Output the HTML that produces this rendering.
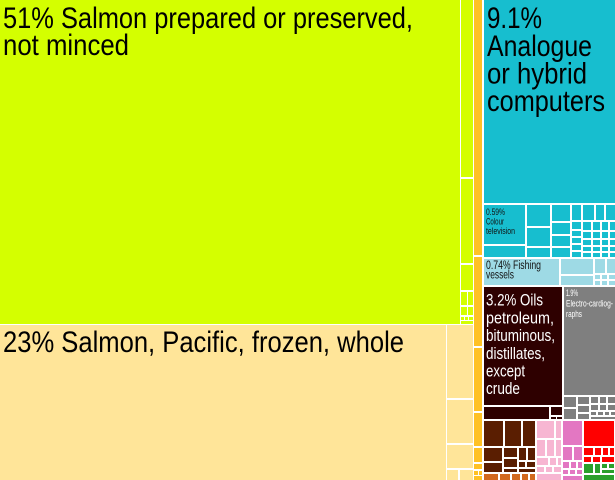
<!DOCTYPE html>
<html><head><meta charset="utf-8"><style>
html,body{margin:0;padding:0;background:#fff;width:615px;height:480px;overflow:hidden}
svg{display:block}
text{font-family:"Liberation Sans Narrow","Liberation Sans",sans-serif}
</style></head><body>
<svg width="615" height="480" viewBox="0 0 615 480" xmlns="http://www.w3.org/2000/svg" shape-rendering="crispEdges">
<rect x="0" y="0" width="615" height="480" fill="#fff"/>
<!-- green -->
<g fill="#d4ff00">
<rect x="0" y="0" width="460" height="324"/>
<rect x="461" y="0" width="12" height="177"/>
<rect x="461" y="179" width="12" height="84"/>
<rect x="461" y="265" width="12" height="25"/>
<rect x="461" y="292" width="6" height="13"/>
<rect x="468" y="292" width="5" height="13"/>
<rect x="461" y="307" width="6" height="8"/>
<rect x="468" y="307" width="5" height="8"/>
<rect x="461" y="317" width="3" height="3"/>
<rect x="465" y="317" width="3" height="3"/>
<rect x="469" y="317" width="4" height="3"/>
<rect x="461" y="321" width="12" height="3"/>
</g>
<!-- beige -->
<g fill="#ffe599">
<rect x="0" y="325" width="446" height="155"/>
<rect x="447" y="325" width="26" height="73"/>
<rect x="447" y="400" width="26" height="43"/>
<rect x="447" y="445" width="26" height="23"/>
<rect x="447" y="470" width="11" height="10"/>
<rect x="460" y="470" width="13" height="10"/>
</g>
<!-- orange strip -->
<g fill="#ffc125">
<rect x="474" y="0" width="8" height="255"/>
<rect x="474" y="257" width="8" height="89"/>
<rect x="474" y="348" width="8" height="63"/>
<rect x="474" y="413" width="8" height="33"/>
<rect x="474" y="448" width="8" height="14"/>
<rect x="474" y="464" width="8" height="5"/>
<rect x="474" y="471" width="4" height="4"/>
<rect x="479" y="471" width="3" height="4"/>
<rect x="474" y="476" width="8" height="4"/>
</g>
<!-- teal -->
<g fill="#17becf">
<rect x="484" y="0" width="131" height="203"/>
<rect x="484" y="205" width="41" height="39"/>
<rect x="484" y="246" width="41" height="11"/>
<rect x="527" y="205" width="23" height="21"/>
<rect x="527" y="228" width="23" height="18"/>
<rect x="527" y="248" width="23" height="9"/>
<rect x="552" y="205" width="18" height="16"/>
<rect x="552" y="223" width="18" height="11"/>
<rect x="552" y="236" width="18" height="10"/>
<rect x="552" y="248" width="18" height="9"/>
<rect x="572" y="205" width="9" height="15"/>
<rect x="572" y="222" width="9" height="7"/>
<rect x="572" y="231" width="9" height="5"/>
<rect x="572" y="238" width="9" height="5"/>
<rect x="572" y="245" width="9" height="5"/>
<rect x="572" y="252" width="9" height="5"/>
<rect x="583" y="205" width="11" height="15"/>
<rect x="596" y="205" width="8" height="15"/>
<rect x="606" y="205" width="9" height="15"/>
<rect x="583" y="222" width="8" height="8"/>
<rect x="593" y="222" width="7" height="8"/>
<rect x="602" y="222" width="6" height="8"/>
<rect x="610" y="222" width="5" height="8"/>
<rect x="583" y="232" width="8" height="6"/>
<rect x="593" y="232" width="7" height="6"/>
<rect x="602" y="232" width="6" height="6"/>
<rect x="610" y="232" width="5" height="6"/>
<rect x="583" y="240" width="8" height="5"/>
<rect x="593" y="240" width="7" height="5"/>
<rect x="602" y="240" width="6" height="5"/>
<rect x="610" y="240" width="5" height="5"/>
<rect x="583" y="247" width="8" height="4"/>
<rect x="593" y="247" width="7" height="4"/>
<rect x="602" y="247" width="6" height="4"/>
<rect x="610" y="247" width="5" height="4"/>
<rect x="583" y="253" width="8" height="4"/>
<rect x="593" y="253" width="7" height="4"/>
<rect x="602" y="253" width="6" height="4"/>
<rect x="610" y="253" width="5" height="4"/>
</g>
<!-- light blue -->
<g fill="#9edae5">
<rect x="484" y="259" width="75" height="26"/>
<rect x="561" y="259" width="32" height="15"/>
<rect x="561" y="276" width="32" height="9"/>
<rect x="595" y="259" width="10" height="14"/>
<rect x="607" y="259" width="8" height="14"/>
<rect x="595" y="275" width="5" height="4"/>
<rect x="602" y="275" width="5" height="4"/>
<rect x="609" y="275" width="6" height="4"/>
<rect x="595" y="281" width="5" height="4"/>
<rect x="602" y="281" width="5" height="4"/>
<rect x="609" y="281" width="6" height="4"/>
</g>
<!-- dark brown -->
<g fill="#2e0000">
<rect x="484" y="287" width="78" height="118"/>
<rect x="484" y="407" width="65" height="12"/>
<rect x="551" y="407" width="11" height="8"/>
<rect x="551" y="417" width="5" height="2"/>
<rect x="557" y="417" width="5" height="2"/>
</g>
<!-- grey -->
<g fill="#7f7f7f">
<rect x="564" y="287" width="51" height="108"/>
<rect x="564" y="397" width="12" height="10"/>
<rect x="564" y="409" width="12" height="10"/>
<rect x="578" y="397" width="11" height="7"/>
<rect x="578" y="406" width="11" height="6"/>
<rect x="578" y="414" width="11" height="5"/>
<rect x="591" y="397" width="7" height="6"/>
<rect x="600" y="397" width="6" height="6"/>
<rect x="608" y="397" width="7" height="6"/>
<rect x="591" y="405" width="7" height="5"/>
<rect x="600" y="405" width="6" height="5"/>
<rect x="608" y="405" width="7" height="5"/>
<rect x="591" y="412" width="5" height="3"/>
<rect x="598" y="412" width="5" height="3"/>
<rect x="605" y="412" width="4" height="3"/>
<rect x="611" y="412" width="4" height="3"/>
<rect x="591" y="417" width="24" height="2"/>
</g>
<!-- brown -->
<g fill="#5a1e01">
<rect x="484" y="421" width="19" height="25"/>
<rect x="505" y="421" width="16" height="25"/>
<rect x="523" y="421" width="12" height="25"/>
<rect x="484" y="448" width="18" height="13"/>
<rect x="484" y="463" width="18" height="9"/>
<rect x="504" y="448" width="13" height="9"/>
<rect x="504" y="459" width="13" height="8"/>
<rect x="504" y="469" width="13" height="3"/>
<rect x="519" y="448" width="7" height="12"/>
<rect x="528" y="448" width="7" height="12"/>
<rect x="519" y="462" width="6" height="5"/>
<rect x="527" y="462" width="8" height="5"/>
<rect x="519" y="469" width="16" height="3"/>
</g>
<g fill="#d2691e">
<rect x="484" y="474" width="14" height="6"/>
<rect x="500" y="474" width="10" height="6"/>
<rect x="512" y="474" width="8" height="6"/>
<rect x="522" y="474" width="6" height="6"/>
<rect x="530" y="474" width="5" height="6"/>
</g>
<!-- pink -->
<g fill="#f7b6d2">
<rect x="537" y="421" width="17" height="17"/>
<rect x="556" y="421" width="5" height="17"/>
<rect x="537" y="440" width="8" height="16"/>
<rect x="547" y="440" width="7" height="16"/>
<rect x="556" y="440" width="5" height="16"/>
<rect x="537" y="458" width="11" height="7"/>
<rect x="550" y="458" width="6" height="7"/>
<rect x="558" y="458" width="3" height="7"/>
<rect x="537" y="467" width="7" height="5"/>
<rect x="546" y="467" width="6" height="5"/>
<rect x="554" y="467" width="7" height="5"/>
<rect x="537" y="474" width="24" height="6"/>
</g>
<!-- orchid -->
<g fill="#e377c2">
<rect x="563" y="421" width="19" height="24"/>
<rect x="563" y="447" width="9" height="13"/>
<rect x="574" y="447" width="8" height="13"/>
<rect x="563" y="462" width="6" height="6"/>
<rect x="571" y="462" width="5" height="6"/>
<rect x="578" y="462" width="4" height="6"/>
<rect x="563" y="470" width="5" height="4"/>
<rect x="570" y="470" width="5" height="4"/>
<rect x="577" y="470" width="5" height="4"/>
<rect x="563" y="476" width="19" height="4"/>
</g>
<!-- red -->
<g fill="#ff0000">
<rect x="584" y="421" width="30" height="25"/>
<rect x="584" y="448" width="9" height="7"/>
<rect x="595" y="448" width="6" height="7"/>
<rect x="603" y="448" width="5" height="7"/>
<rect x="610" y="448" width="4" height="7"/>
<rect x="584" y="457" width="7" height="5"/>
<rect x="593" y="457" width="7" height="5"/>
<rect x="602" y="457" width="12" height="5"/>
</g>
<!-- green small -->
<g fill="#2ca02c">
<rect x="584" y="464" width="9" height="9"/>
<rect x="595" y="464" width="5" height="9"/>
<rect x="602" y="464" width="5" height="4"/>
<rect x="609" y="464" width="5" height="4"/>
<rect x="602" y="470" width="12" height="3"/>
<rect x="584" y="475" width="30" height="5"/>
</g>

<!-- labels -->
<g fill="#000" font-size="30">
<text x="3" y="28" textLength="410" lengthAdjust="spacingAndGlyphs">51% Salmon prepared or preserved,</text>
<text x="3" y="55" textLength="126" lengthAdjust="spacingAndGlyphs">not minced</text>
<text x="3" y="352" textLength="401" lengthAdjust="spacingAndGlyphs">23% Salmon, Pacific, frozen, whole</text>
<text x="487" y="28" textLength="55" lengthAdjust="spacingAndGlyphs">9.1%</text>
<text x="487" y="56" textLength="105" lengthAdjust="spacingAndGlyphs">Analogue</text>
<text x="487" y="83.5" textLength="100" lengthAdjust="spacingAndGlyphs">or hybrid</text>
<text x="487" y="111" textLength="118" lengthAdjust="spacingAndGlyphs">computers</text>
</g>
<g fill="#fff" font-size="16.5">
<text x="486" y="305.7" textLength="57" lengthAdjust="spacingAndGlyphs">3.2% Oils</text>
<text x="486" y="323.4" textLength="68" lengthAdjust="spacingAndGlyphs">petroleum,</text>
<text x="486" y="341.1" textLength="69" lengthAdjust="spacingAndGlyphs">bituminous,</text>
<text x="486" y="358.8" textLength="59" lengthAdjust="spacingAndGlyphs">distillates,</text>
<text x="486" y="376.5" textLength="39" lengthAdjust="spacingAndGlyphs">except</text>
<text x="486" y="394" textLength="34" lengthAdjust="spacingAndGlyphs">crude</text>
</g>
<g fill="#fff" font-size="9">
<text x="566" y="296" textLength="12" lengthAdjust="spacingAndGlyphs">1.9%</text>
<text x="566" y="306.5" textLength="47" lengthAdjust="spacingAndGlyphs">Electro-cardiog-</text>
<text x="566" y="317" textLength="16" lengthAdjust="spacingAndGlyphs">raphs</text>
</g>
<g fill="#111" font-size="9">
<text x="486" y="215" textLength="19" lengthAdjust="spacingAndGlyphs">0.59%</text>
<text x="486" y="224.5" textLength="18" lengthAdjust="spacingAndGlyphs">Colour</text>
<text x="486" y="234" textLength="29" lengthAdjust="spacingAndGlyphs">television</text>
</g>
<g fill="#111" font-size="11.5">
<text x="486" y="269" textLength="55" lengthAdjust="spacingAndGlyphs">0.74% Fishing</text>
<text x="486" y="278.5" textLength="28" lengthAdjust="spacingAndGlyphs">vessels</text>
</g>
</svg>
</body></html>
